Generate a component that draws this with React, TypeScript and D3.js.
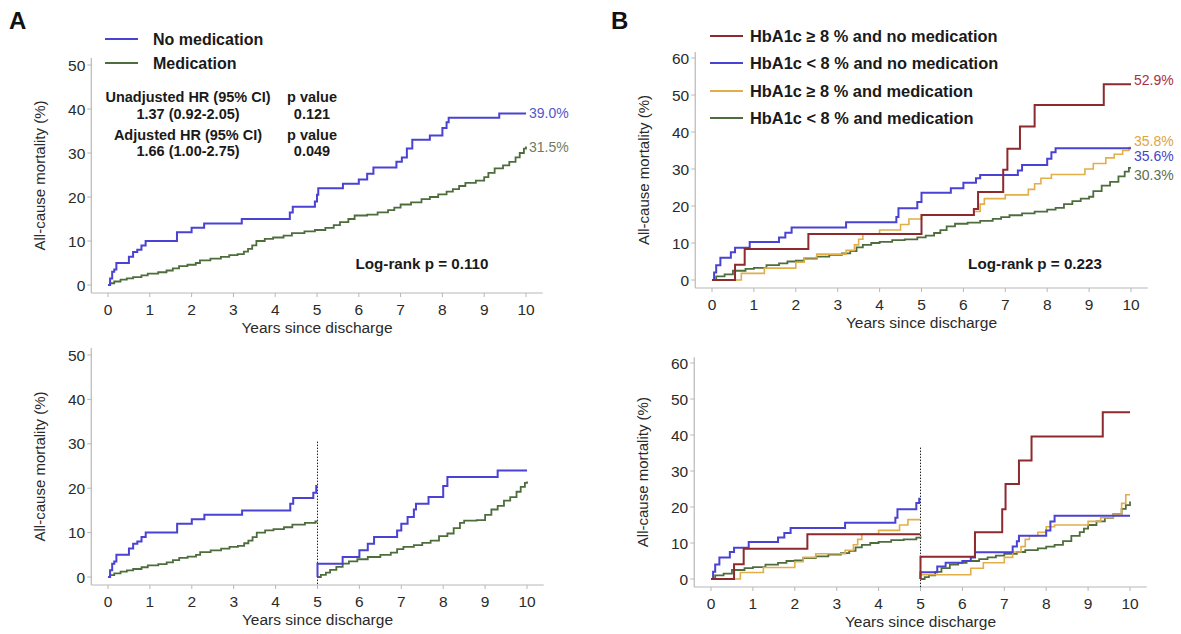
import React from 'react';
import * as d3 from 'd3';

type Pt = [number, number];

const yearTicks = [0, 1, 2, 3, 4, 5, 6, 7, 8, 9, 10];
const ticksA = [0, 10, 20, 30, 40, 50];
const ticksB = [0, 10, 20, 30, 40, 50, 60];

// Panel A, full follow-up
const aNoMed: Pt[] = [[0, 0], [0.05, 1.5], [0.1, 3], [0.15, 3.5], [0.2, 5], [0.5, 6.4], [0.6, 7.5], [0.7, 8], [0.8, 9], [0.9, 10], [1.65, 12], [2.0, 13], [2.3, 14], [3.2, 15], [4.35, 16.5], [4.42, 17.8], [4.95, 19], [5.0, 20.5], [5.03, 22], [5.62, 23], [6.0, 24], [6.2, 25.3], [6.35, 26.7], [6.9, 28], [7.03, 29], [7.15, 31], [7.28, 33], [7.7, 34], [8.0, 35.7], [8.1, 37], [8.15, 38], [9.36, 39], [10, 39]];
const aMed: Pt[] = [[0, 0], [0.05, 0.4], [0.15, 0.8], [0.3, 1.2], [0.45, 1.5], [0.6, 1.8], [0.8, 2.2], [0.95, 2.6], [1.2, 2.9], [1.4, 3.3], [1.55, 3.8], [1.7, 4.3], [1.9, 4.6], [2.1, 5.0], [2.2, 5.6], [2.45, 6.0], [2.7, 6.4], [2.9, 6.8], [3.1, 7.0], [3.25, 7.6], [3.35, 8.2], [3.45, 9.0], [3.55, 10.0], [3.75, 10.5], [3.95, 10.8], [4.2, 11.2], [4.4, 11.8], [4.7, 12.2], [4.95, 12.5], [5.2, 13.0], [5.4, 13.6], [5.55, 14.3], [5.75, 15.0], [5.9, 15.8], [6.2, 16.0], [6.45, 16.5], [6.7, 17.0], [6.85, 17.6], [7.0, 18.3], [7.25, 18.8], [7.5, 19.5], [7.7, 20.0], [7.9, 20.6], [8.1, 21.2], [8.25, 21.8], [8.4, 22.5], [8.55, 23.2], [8.8, 23.7], [9.0, 24.5], [9.1, 25.5], [9.25, 26.5], [9.45, 27.2], [9.6, 28.0], [9.75, 29.0], [9.85, 30.0], [9.95, 31.0], [10, 31.5]];

// Panel A, landmark at 5 years
const aNoMed1: Pt[] = [[0, 0], [0.05, 1.5], [0.1, 3], [0.15, 3.5], [0.2, 5], [0.5, 6.4], [0.6, 7.5], [0.7, 8], [0.8, 9], [0.9, 10], [1.65, 12], [2.0, 13], [2.3, 14], [3.2, 15], [4.35, 16.5], [4.42, 17.8], [4.9, 19], [4.97, 20.5], [5, 20.5]];
const aMed1: Pt[] = [[0, 0], [0.05, 0.4], [0.15, 0.8], [0.3, 1.2], [0.45, 1.5], [0.6, 1.8], [0.8, 2.2], [0.95, 2.6], [1.2, 2.9], [1.4, 3.3], [1.55, 3.8], [1.7, 4.3], [1.9, 4.6], [2.1, 5.0], [2.2, 5.6], [2.45, 6.0], [2.7, 6.4], [2.9, 6.8], [3.1, 7.0], [3.25, 7.6], [3.35, 8.2], [3.45, 9.0], [3.55, 10.0], [3.75, 10.5], [3.95, 10.8], [4.2, 11.2], [4.4, 11.8], [4.7, 12.2], [4.95, 12.5], [5, 12.5]];
const aNoMed2: Pt[] = [[5, 0], [5, 3], [5.6, 4.5], [6.0, 6], [6.2, 7.5], [6.35, 9], [6.9, 10.5], [7.0, 12], [7.15, 13.5], [7.3, 15.2], [7.35, 16.5], [7.65, 18], [8.0, 20.5], [8.1, 22.5], [9.3, 24], [10, 24]];
const aMed2: Pt[] = [[5, 0], [5.08, 0.5], [5.2, 1.0], [5.3, 1.6], [5.45, 2.3], [5.6, 3.0], [5.75, 3.5], [5.95, 4.0], [6.2, 4.5], [6.5, 5.0], [6.75, 5.5], [6.9, 6.3], [7.05, 6.8], [7.3, 7.2], [7.5, 7.7], [7.7, 8.2], [7.9, 9.2], [8.1, 9.8], [8.25, 11.0], [8.4, 12.2], [8.5, 12.7], [8.8, 12.8], [9.0, 14.0], [9.15, 15.2], [9.3, 16.0], [9.45, 17.2], [9.6, 18.0], [9.75, 19.2], [9.85, 20.3], [9.95, 21.2], [10, 21.5]];

// Panel B, full follow-up
const bHighNoMed: Pt[] = [[0, 0], [0.55, 4.1], [0.78, 8.4], [2.3, 12.4], [5.0, 17.6], [6.25, 19.2], [6.35, 23.8], [6.95, 29.8], [7.05, 35.5], [7.35, 41.5], [7.7, 47.3], [9.35, 52.9], [10, 52.9]];
const bLowNoMed: Pt[] = [[0, 0], [0.05, 2], [0.1, 4], [0.2, 6], [0.45, 7.5], [0.55, 8.7], [0.9, 10.3], [1.6, 11.5], [1.75, 12.8], [1.9, 14.2], [3.2, 15.6], [4.4, 17], [4.45, 19.4], [4.9, 21.1], [5.0, 23.6], [5.7, 24.8], [6.0, 26.3], [6.3, 27.5], [6.4, 28.4], [7.3, 29.6], [7.4, 31.1], [8.0, 32.8], [8.1, 34.5], [8.2, 35.6], [10, 35.6]];
const bHighMed: Pt[] = [[0, 0], [0.7, 1.8], [1.25, 3.2], [2.0, 4.8], [2.2, 6], [2.5, 7], [3.2, 8], [3.4, 9.5], [3.5, 11], [3.6, 12.5], [4.0, 13.5], [4.5, 15], [4.7, 16.5], [5.0, 17.5], [6.25, 18.5], [6.4, 20.5], [6.5, 22], [7.0, 23], [7.55, 24.5], [7.7, 26], [7.85, 27.5], [8.1, 28.5], [8.9, 30], [9.1, 31.5], [9.4, 33], [9.6, 34], [9.8, 35], [9.95, 35.8], [10, 35.8]];
const bLowMed: Pt[] = [[0, 0], [0.1, 1], [0.3, 1.5], [0.5, 2.5], [0.8, 3], [1.0, 3.3], [1.3, 4], [1.6, 4.5], [1.8, 5], [2.0, 5.2], [2.2, 5.8], [2.5, 6.3], [2.8, 6.8], [3.1, 7.2], [3.3, 7.8], [3.45, 8.8], [3.6, 9.5], [3.8, 10], [4.0, 10.3], [4.3, 10.8], [4.6, 11], [4.9, 11.5], [5.1, 12], [5.3, 12.7], [5.45, 13.5], [5.6, 14.5], [5.8, 15.2], [6.1, 15.5], [6.4, 16], [6.7, 16.5], [6.9, 17], [7.1, 17.5], [7.4, 18], [7.7, 18.5], [8.0, 19], [8.2, 19.5], [8.4, 20.5], [8.6, 21.3], [8.8, 22], [9.0, 22.5], [9.1, 24], [9.3, 25.5], [9.5, 26.5], [9.7, 28], [9.85, 29.3], [9.95, 30.3], [10, 30.3]];

// Panel B, landmark at 5 years
const bHighNoMed1: Pt[] = [[0, 0], [0.55, 4.1], [0.78, 8.4], [2.3, 12.4], [5, 12.4]];
const bLowNoMed1: Pt[] = [[0, 0], [0.05, 2], [0.1, 4], [0.2, 6], [0.45, 7.5], [0.55, 8.7], [0.9, 10.3], [1.6, 11.5], [1.75, 12.8], [1.9, 14.2], [3.2, 15.6], [4.4, 17], [4.45, 19.4], [4.9, 21.1], [4.97, 22.3], [5, 22.3]];
const bHighMed1: Pt[] = [[0, 0], [0.7, 1.8], [1.25, 3.2], [2.0, 4.8], [2.2, 6], [2.5, 7], [3.2, 8], [3.4, 9.5], [3.5, 11], [3.6, 12.5], [4.0, 13.5], [4.5, 15], [4.7, 16.5], [5, 16.5]];
const bLowMed1: Pt[] = [[0, 0], [0.1, 1], [0.3, 1.5], [0.5, 2.5], [0.8, 3], [1.0, 3.3], [1.3, 4], [1.6, 4.5], [1.8, 5], [2.0, 5.2], [2.2, 5.8], [2.5, 6.3], [2.8, 6.8], [3.1, 7.2], [3.3, 7.8], [3.45, 8.8], [3.6, 9.5], [3.8, 10], [4.0, 10.3], [4.3, 10.8], [4.6, 11], [4.9, 11.5], [5, 11.8]];
const bHighNoMed2: Pt[] = [[5, 0], [5, 6.2], [6.3, 13], [6.95, 19.4], [7.03, 26.4], [7.35, 32.9], [7.65, 39.6], [9.35, 46.3], [10, 46.3]];
const bLowNoMed2: Pt[] = [[5, 0], [5, 1.9], [5.4, 3.5], [5.6, 4.5], [6.0, 5], [6.2, 6], [6.3, 7.4], [7.2, 9], [7.3, 10.5], [7.35, 12], [8.0, 13.5], [8.1, 16], [8.2, 17.6], [10, 17.6]];
const bHighMed2: Pt[] = [[5, 0], [5, 1.2], [6.2, 3], [6.5, 4.5], [7.0, 6], [7.2, 7.5], [7.4, 9], [7.5, 11], [7.6, 12], [7.8, 13], [8.0, 14.5], [8.2, 15], [9.0, 16], [9.3, 17], [9.6, 18], [9.8, 21], [9.9, 23.4], [10, 23.4]];
const bLowMed2: Pt[] = [[5, 0], [5.1, 0.5], [5.2, 1], [5.35, 2], [5.5, 3], [5.7, 4], [5.9, 4.5], [6.1, 5], [6.4, 5.5], [6.6, 6], [6.8, 6.5], [7.0, 7], [7.3, 7.5], [7.5, 8], [7.8, 8.5], [8.0, 9], [8.2, 9.5], [8.4, 10.5], [8.6, 12], [8.8, 13], [8.9, 14], [9.0, 15], [9.2, 16], [9.4, 17], [9.6, 18], [9.8, 19.5], [9.9, 20.5], [10, 21.5]];

const legendA = ['No medication', 'Medication'];
const legendB = ['HbA1c \u2265 8 % and no medication', 'HbA1c < 8 % and no medication', 'HbA1c \u2265 8 % and medication', 'HbA1c < 8 % and medication'];
const hrRows = [['Unadjusted HR (95% CI)', 'p value'], ['1.37 (0.92-2.05)', '0.121'], ['Adjusted HR (95% CI)', 'p value'], ['1.66 (1.00-2.75)', '0.049']];

const FONT = '"Liberation Sans", Arial, Helvetica, sans-serif';
const BLUE = '#4a42d2';
const GREEN = '#4e6d3c';
const RED = '#8c2a2e';
const ORANGE = '#e2ae4a';

interface Line { pts: Pt[]; color: string; w: number; }
interface EndLabel { text: string; y: number; color: string; }
interface Geo { x0: number; x1: number; y0: number; y1: number; }

const Panel = ({ g, yTicks, lines, cut, ends }: { g: Geo; yTicks: number[]; lines: Line[]; cut?: number; ends?: EndLabel[] }) => {
  const yMax = yTicks[yTicks.length - 1];
  const x = d3.scaleLinear().domain([0, 10]).range([g.x0, g.x1]);
  const y = d3.scaleLinear().domain([0, yMax]).range([g.y0, g.y1]);
  const path = d3.line<Pt>().x(d => x(d[0])).y(d => y(d[1])).curve(d3.curveStepAfter);
  const axX = x(-0.4);
  const axY = g.y0 + 8;
  const axTop = y(yMax + 1.6);
  const axRight = x(10.4);
  return (
    <g fontFamily={FONT}>
      <line x1={axX} x2={axX} y1={axTop} y2={axY} stroke="#b8b8b8" strokeWidth={1.2} />
      <line x1={axX} x2={axRight} y1={axY} y2={axY} stroke="#b8b8b8" strokeWidth={1.2} />
      {yTicks.map(t => (
        <g key={'y' + t}>
          <line x1={axX - 4} x2={axX} y1={y(t)} y2={y(t)} stroke="#b8b8b8" />
          <text x={axX - 6} y={y(t) + 5.5} textAnchor="end" fontSize={15.5} fill="#2a2a2a">{t}</text>
        </g>
      ))}
      {yearTicks.map(t => (
        <g key={'x' + t}>
          <line x1={x(t)} x2={x(t)} y1={axY} y2={axY + 4} stroke="#b8b8b8" />
          <text x={x(t)} y={axY + 22} textAnchor="middle" fontSize={15.5} fill="#2a2a2a">{t}</text>
        </g>
      ))}
      <text x={x(5)} y={axY + 40} textAnchor="middle" fontSize={15.5} fill="#2a2a2a">Years since discharge</text>
      <text transform={`translate(${g.x0 - 63},${(axTop + axY) / 2}) rotate(-90)`} textAnchor="middle" fontSize={15} fill="#2a2a2a">All-cause mortality (%)</text>
      {cut !== undefined && (
        <line x1={x(5)} x2={x(5)} y1={y(cut)} y2={axY} stroke="#222" strokeWidth={1} strokeDasharray="1.5,1.5" />
      )}
      {lines.map((l, i) => (
        <path key={i} d={path(l.pts) || ''} fill="none" stroke={l.color} strokeWidth={l.w} />
      ))}
      {ends && ends.map(e => (
        <text key={e.text} x={x(10) + 3} y={e.y + 5} fontSize={14} fill={e.color}>{e.text}</text>
      ))}
    </g>
  );
};

export default function App() {
  const geoATop = { x0: 108, x1: 526, y0: 285, y1: 65 };
  const geoABot = { x0: 108, x1: 527, y0: 577, y1: 355 };
  const geoBTop = { x0: 712, x1: 1131, y0: 280, y1: 58 };
  const geoBBot = { x0: 711, x1: 1130, y0: 579, y1: 363 };
  const yA = d3.scaleLinear().domain([0, 50]).range([geoATop.y0, geoATop.y1]);
  const yB = d3.scaleLinear().domain([0, 60]).range([geoBTop.y0, geoBTop.y1]);
  const colorsB = [RED, BLUE, ORANGE, GREEN];
  const hrY = [101, 118, 139, 155];
  const legBY = [36, 63, 91, 118];

  return (
    <svg width={1181} height={634} style={{ position: 'absolute', left: 0, top: 0, background: '#fff' }}>
      <rect width={1181} height={634} fill="#fff" />
      <text x={9} y={29} fontFamily={FONT} fontWeight="bold" fontSize={24} fill="#111">A</text>
      <text x={611} y={29} fontFamily={FONT} fontWeight="bold" fontSize={24} fill="#111">B</text>

      {legendA.map((t, i) => (
        <g key={t} fontFamily={FONT}>
          <line x1={105} x2={138} y1={39 + i * 24} y2={39 + i * 24} stroke={[BLUE, GREEN][i]} strokeWidth={2} />
          <text x={153} y={44.5 + i * 24} fontSize={16} fontWeight="bold" fill="#1a1a1a">{t}</text>
        </g>
      ))}
      {hrRows.map((r, i) => (
        <g key={i} fontFamily={FONT} fontSize={14.5} fontWeight="bold" fill="#1a1a1a" textAnchor="middle">
          <text x={188} y={hrY[i] + 1}>{r[0]}</text>
          <text x={312} y={hrY[i] + 1}>{r[1]}</text>
        </g>
      ))}
      <text x={422} y={268.5} textAnchor="middle" fontFamily={FONT} fontSize={15.2} fontWeight="bold" fill="#1a1a1a">Log-rank p = 0.110</text>

      {legendB.map((t, i) => (
        <g key={t} fontFamily={FONT}>
          <line x1={710} x2={743} y1={legBY[i]} y2={legBY[i]} stroke={colorsB[i]} strokeWidth={2.2} />
          <text x={750} y={legBY[i] + 5.5} fontSize={16.4} fontWeight="bold" fill="#1a1a1a">{t}</text>
        </g>
      ))}
      <text x={1035} y={268.5} textAnchor="middle" fontFamily={FONT} fontSize={15.2} fontWeight="bold" fill="#1a1a1a">Log-rank p = 0.223</text>

      <Panel g={geoATop} yTicks={ticksA}
        lines={[{ pts: aMed, color: GREEN, w: 1.8 }, { pts: aNoMed, color: BLUE, w: 2 }]}
        ends={[{ text: '39.0%', y: yA(39), color: '#5555cc' }, { text: '31.5%', y: yA(31.5) + 1, color: '#6e7d5e' }]} />
      <Panel g={geoABot} yTicks={ticksA} cut={30.5}
        lines={[{ pts: aMed1, color: GREEN, w: 1.8 }, { pts: aMed2, color: GREEN, w: 1.8 }, { pts: aNoMed1, color: BLUE, w: 2 }, { pts: aNoMed2, color: BLUE, w: 2 }]} />
      <Panel g={geoBTop} yTicks={ticksB}
        lines={[{ pts: bLowMed, color: GREEN, w: 1.8 }, { pts: bHighMed, color: ORANGE, w: 1.6 }, { pts: bLowNoMed, color: BLUE, w: 2 }, { pts: bHighNoMed, color: RED, w: 2 }]}
        ends={[{ text: '52.9%', y: yB(52.9) - 4, color: '#a83240' }, { text: '35.8%', y: yB(37.5), color: '#e0a440' }, { text: '35.6%', y: yB(33.4), color: '#4545c8' }, { text: '30.3%', y: yB(28.3), color: '#5e6e50' }]} />
      <Panel g={geoBBot} yTicks={ticksB} cut={36.5}
        lines={[{ pts: bLowMed1, color: GREEN, w: 1.8 }, { pts: bLowMed2, color: GREEN, w: 1.8 }, { pts: bHighMed1, color: ORANGE, w: 1.6 }, { pts: bHighMed2, color: ORANGE, w: 1.6 }, { pts: bLowNoMed1, color: BLUE, w: 2 }, { pts: bLowNoMed2, color: BLUE, w: 2 }, { pts: bHighNoMed1, color: RED, w: 2 }, { pts: bHighNoMed2, color: RED, w: 2 }]} />
    </svg>
  );
}
